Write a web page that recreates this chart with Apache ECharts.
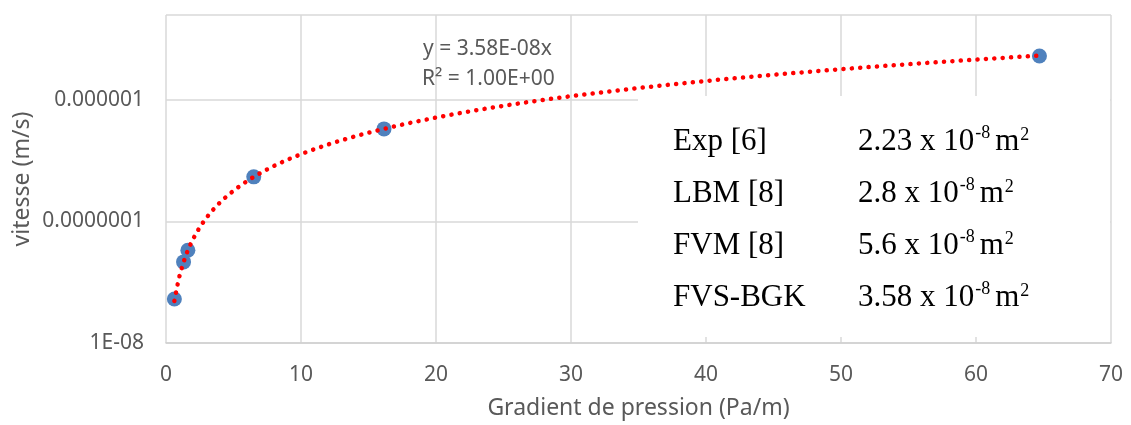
<!DOCTYPE html>
<html>
<head>
<meta charset="utf-8">
<script src="https://cdn.jsdelivr.net/npm/echarts@6/dist/echarts.min.js"></script>
<style>
  html, body { margin: 0; padding: 0; background: #fff; }
  #chart { width: 1131px; height: 425px; }
</style>
</head>
<body>
<div id="chart"></div>
<script>
// Measured velocity vs. pressure gradient
const gradient = [0.62, 1.3, 1.62, 6.5, 16.15, 64.7];          // Pa/m
const velocity = [2.3e-8, 4.65e-8, 5.8e-8, 2.33e-7, 5.78e-7, 2.3e-6]; // m/s

// Linear fit through the origin: y = a·x
const trendSlope = 3.58e-8;
const trendLabel = ['y = 3.58E-08x', 'R² = 1.00E+00'];

// Permeability comparison table
const methods = ['Exp [6]', 'LBM [8]', 'FVM [8]', 'FVS-BGK'];
const permMantissa = ['2.23', '2.8', '5.6', '3.58'];
const permExponent = ['-8', '-8', '-8', '-8'];

const yTickLabels = { '-8': '1E-08', '-7': '0.0000001', '-6': '0.000001' };

const points = gradient.map((x, i) => [x, velocity[i]]);

// Fitted curve sampled along the measured range
const trendPoints = [];
const nSamples = 200;
const xStart = gradient[0], xEnd = gradient[gradient.length - 1];
for (let i = 0; i <= nSamples; i++) {
  const x = xStart + (xEnd - xStart) * i / nSamples;
  trendPoints.push([x, trendSlope * x]);
}

const gray = '#595959';
const gridColor = '#d9d9d9';
const sans = '"Noto Sans", "Open Sans", sans-serif';
const serif = '"Liberation Serif", "DejaVu Serif", serif';

// Table layout (serif text with superscript exponents)
const mainSize = 31, supSize = 18;
const mainFont = mainSize + 'px ' + serif;
const supFont = supSize + 'px ' + serif;
const measureCtx = document.createElement('canvas').getContext('2d');
function textWidth(str, font) { measureCtx.font = font; return measureCtx.measureText(str).width; }
// zrender draws text with a 'middle' baseline; shift from alphabetic baseline
const midShift = s => 0.3375 * s;

const tableRows = [];
const firstBaseline = 152, rowStep = 52.2;
const colName = 673, colValue = 858;
methods.forEach((m, i) => {
  const base = firstBaseline + i * rowStep;
  const piece = (x, yBase, text, font, size) => ({
    type: 'text', z: 10, x: x, y: yBase - midShift(size),
    style: { text: text, font: font, fill: '#000', verticalAlign: 'middle', align: 'left' }
  });
  tableRows.push(piece(colName, base, m, mainFont, mainSize));
  let x = colValue;
  const mant = permMantissa[i] + ' x 10';
  tableRows.push(piece(x, base, mant, mainFont, mainSize));
  x += textWidth(mant, mainFont) + 1;
  tableRows.push(piece(x, base - 13, permExponent[i], supFont, supSize));
  x += textWidth(permExponent[i], supFont) + 5;
  tableRows.push(piece(x, base, 'm', mainFont, mainSize));
  x += textWidth('m', mainFont) + 1;
  tableRows.push(piece(x, base - 11, '2', supFont, supSize));
});

const chart = echarts.init(document.getElementById('chart'), null, { renderer: 'canvas' });
chart.setOption({
  animation: false,
  backgroundColor: '#fff',
  grid: { left: 166, right: 20, top: 15, bottom: 82, containLabel: false, outerBoundsMode: 'none' },
  xAxis: {
    type: 'value', min: 0, max: 70, interval: 10,
    name: 'Gradient de pression (Pa/m)',
    nameLocation: 'middle', nameGap: 54, nameMoveOverlap: false,
    nameTextStyle: { color: gray, fontFamily: sans, fontSize: 23 },
    axisLine: { show: true, lineStyle: { color: '#d0d0d0', width: 1.5 } },
    axisTick: { show: false },
    axisLabel: { color: gray, fontFamily: sans, fontSize: 21, margin: 22 },
    splitLine: { show: true, lineStyle: { color: gridColor, width: 1.5 } }
  },
  yAxis: {
    type: 'log', logBase: 10, min: 1e-8, max: 5e-6,
    name: 'vitesse (m/s)',
    nameLocation: 'middle', nameGap: 132, nameMoveOverlap: false,
    nameTextStyle: { color: gray, fontFamily: sans, fontSize: 23 },
    axisLine: { show: false },
    axisTick: { show: false },
    axisLabel: {
      color: gray, fontFamily: sans, fontSize: 21, margin: 22,
      formatter: v => {
        const k = String(Math.round(Math.log10(v)));
        return yTickLabels[k] !== undefined ? yTickLabels[k] : '';
      }
    },
    splitLine: { show: true, lineStyle: { color: gridColor, width: 1.5 } }
  },
  graphic: [
    {
      type: 'rect', z: 1, silent: true,
      shape: { x: 638, y: 96, width: 472, height: 241 },
      style: { fill: '#fff' }
    },
    {
      type: 'text', z: 10, left: 423, top: 39,
      style: { text: trendLabel[0], font: '21px ' + sans, fill: gray }
    },
    {
      type: 'text', z: 10, left: 422, top: 69,
      style: { text: trendLabel[1], font: '21px ' + sans, fill: gray }
    }
  ].concat(tableRows),
  series: [
    {
      type: 'scatter', z: 3,
      data: points,
      symbol: 'circle', symbolSize: 15,
      itemStyle: { color: '#4f81bd', opacity: 1 }
    },
    {
      type: 'line', z: 4,
      data: trendPoints,
      showSymbol: false, symbol: 'none',
      lineStyle: { color: '#ff0000', width: 4.5, type: [0.1, 8.3], cap: 'round' }
    }
  ]
});
</script>
</body>
</html>
